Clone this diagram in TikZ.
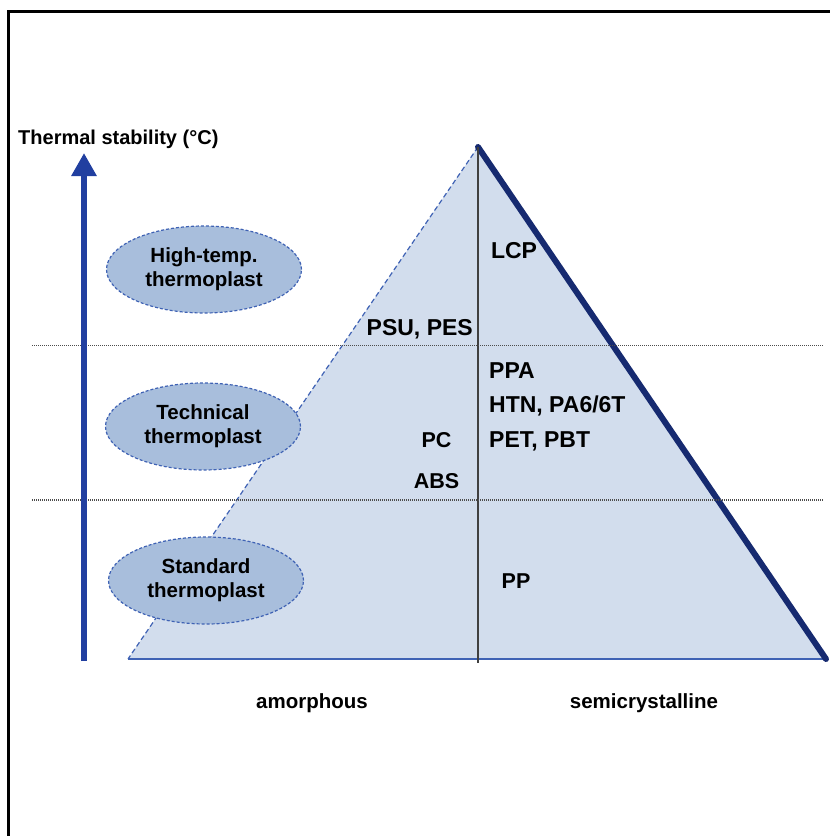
\documentclass[tikz,border=0pt]{standalone}
\usepackage{fontspec}
\setmainfont{Liberation Sans}
\usetikzlibrary{shapes.geometric,arrows.meta}
\definecolor{pyrfill}{HTML}{D2DDED}
\definecolor{ellfill}{HTML}{A8BEDC}
\definecolor{edgeblue}{HTML}{3F62B4}
\definecolor{axisblue}{HTML}{213FA0}
\definecolor{navy}{HTML}{162A70}
\begin{document}
\begin{tikzpicture}[x=1pt,y=-1pt,
  class/.style={draw=edgeblue,line width=1.2pt,dash pattern=on 3pt off 2pt,fill=ellfill,shape=ellipse,minimum width=195pt,minimum height=87pt,inner sep=0pt,align=center,font=\bfseries\fontsize{20.5}{24}\selectfont},
  grade/.style={anchor=base,inner sep=0pt,font=\bfseries\fontsize{23}{26}\selectfont},
  small grade/.style={grade,font=\bfseries\fontsize{21.5}{24}\selectfont},
  axis/.style={anchor=base,inner sep=0pt,font=\bfseries\fontsize{20.5}{22}\selectfont}]
\useasboundingbox (0,0) rectangle (830,836);
\draw[line width=2.5pt] (8.5,836) -- (8.5,11.5) -- (830,11.5);
\coordinate (top) at (478,147);
\coordinate (left) at (128,659);
\coordinate (right) at (826,659);
\coordinate (foot) at (478,663);
\fill[pyrfill] (top) -- (left) -- (right) -- cycle;
\draw[edgeblue,dash pattern=on 5pt off 3pt,line width=1.2pt] (top) -- (left);
\draw[edgeblue,line width=1.5pt] (left) -- (right);
\draw[navy,line width=6pt,line cap=round] (top) -- (right);
\draw[black!75,line width=1.2pt] (top) -- (foot);
\draw[black!70,dash pattern=on 1pt off 1pt,line width=1.2pt] (32,345.5) -- (823,345.5);
\draw[black!70,dash pattern=on 1pt off 1pt,line width=1.2pt] (32,500) -- (823,500);
\coordinate (base) at (84,661);
\coordinate (tip) at (84,153);
\draw[axisblue,line width=6pt,-{Triangle[width=24pt,length=23pt]}] (base) -- (tip);
\draw (18,144) node[anchor=base west,inner sep=0pt,font=\bfseries\fontsize{20}{22}\selectfont] (title) {Thermal stability (°C)};
\draw (204,269.5) node[class] (high) {High-temp.\\thermoplast};
\draw (203,426.5) node[class] (tech) {Technical\\thermoplast};
\draw (206,580.5) node[class] (std) {Standard\\thermoplast};
\draw (514,258) node[grade] (lcp) {LCP};
\draw (473,335) node[grade,anchor=base east] (psu) {PSU, PES};
\draw (489,378) node[grade,anchor=base west] (ppa) {PPA};
\draw (489,412) node[grade,anchor=base west] (htn) {HTN, PA6/6T};
\draw (489,447) node[grade,anchor=base west] (pet) {PET, PBT};
\draw (436.5,447) node[small grade] (pc) {PC};
\draw (436.5,488) node[small grade] (abs) {ABS};
\draw (516,588) node[small grade] (pp) {PP};
\draw (312,708) node[axis] (amorph) {amorphous};
\draw (644,708) node[axis] (semi) {semicrystalline};
\end{tikzpicture}
\end{document}
